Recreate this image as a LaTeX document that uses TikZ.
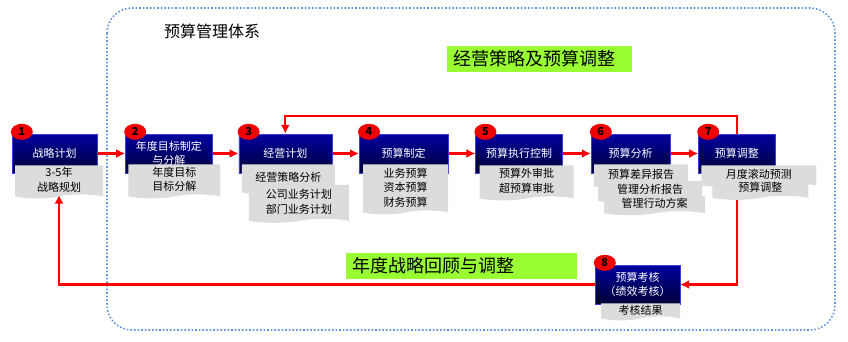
\documentclass[tikz,border=0pt]{standalone}
\usepackage{fontspec}
\setmainfont{Noto Sans CJK SC}
\usetikzlibrary{arrows.meta, positioning, calc, shapes.symbols, shapes.geometric, backgrounds}

\definecolor{frameblue}{RGB}{95,150,215}
\definecolor{stagetop}{RGB}{0,0,160}
\definecolor{stagebot}{RGB}{0,0,55}
\definecolor{stageline}{RGB}{60,60,220}
\definecolor{notegray}{RGB}{220,220,220}
\definecolor{tagred}{RGB}{240,0,0}
\definecolor{bannergreen}{RGB}{153,255,51}

\tikzset{
  stage/.style  = {draw=stageline, rectangle, top color=stagetop, bottom color=stagebot,
                   text=white, align=center, inner sep=2pt, minimum height=39pt,
                   font=\fontsize{11}{13.5}\selectfont},
  note/.style   = {tape, tape bend top=none, tape bend height=4pt, fill=notegray,
                   align=center, inner sep=1pt, font=\fontsize{11}{14.5}\selectfont},
  tag/.style    = {ellipse, fill=tagred, minimum width=22pt, minimum height=16pt,
                   inner sep=0pt, font=\fontsize{11}{11}\selectfont\bfseries},
  banner/.style = {fill=bannergreen, anchor=west, align=left, inner xsep=6pt,
                   minimum height=26pt, font=\fontsize{18}{20}\selectfont},
  arr/.style    = {-{Latex[length=9pt, width=9pt]}, line width=2.2pt, red},
  frame/.style  = {draw=frameblue, dotted, line width=1.6pt, rounded corners=25pt},
  node distance = 27pt
}

\begin{document}
\begin{tikzpicture}[x=1pt, y=-1pt]
  \useasboundingbox (0,0) rectangle (848,341);

  % --- outer frame and headings ---
  \node[font=\fontsize{16}{18}\selectfont] (sysname) at (212,31) {预算管理体系};
  \node[banner, text width=173pt] (planbanner) at (447,59) {经营策略及预算调整};
  \node[banner, text width=219pt] (reviewbanner) at (346,265.5) {年度战略回顾与调整};

  % --- stages ---
  \node[stage, minimum width=85pt]                (s1) at (54.5,153.5) {战略计划};
  \node[stage, minimum width=87pt, right=28pt of s1] (s2) {年度目标制定\\与分解};
  \node[stage, minimum width=93pt, right=26pt of s2] (s3) {经营计划};
  \node[stage, minimum width=89pt, right=27pt of s3] (s4) {预算制定};
  \node[stage, minimum width=87pt, right=27pt of s4] (s5) {预算执行控制};
  \node[stage, minimum width=79pt, right=28pt of s5] (s6) {预算分析};
  \node[stage, minimum width=77pt, right=28pt of s6] (s7) {预算调整};
  \node[stage, minimum width=85pt]                (s8) at (637.5,284.5) {预算考核\\（绩效考核）};

  % --- notes under the stages ---
  \node[note, minimum width=88pt, minimum height=33pt, below=-8pt of s1, xshift=4.5pt] (n1) {3-5年\\战略规划};
  \node[note, minimum width=92pt, minimum height=34pt, below=-9pt of s2, xshift=5.5pt] (n2) {年度目标\\目标分解};
  \node[note, minimum width=93pt, minimum height=30pt, below=-9pt of s3, xshift=3pt] (n3a) {经营策略分析};
  \node[note, minimum width=100pt, minimum height=38pt, below=-6pt of n3a, xshift=10.5pt] (n3b) {公司业务计划\\部门业务计划};
  \node[note, minimum width=85pt, minimum height=50pt, below=-9pt of s4, xshift=2pt] (n4) {业务预算\\资本预算\\财务预算};
  \node[note, minimum width=94pt, minimum height=35pt, below=-8pt of s5, xshift=7.5pt] (n5) {预算外审批\\超预算审批};
  \node[note, minimum width=94pt, minimum height=24pt, below=-9pt of s6, xshift=10.5pt] (n6a) {预算差异报告};
  \node[note, minimum width=104pt, minimum height=22pt, below=-4pt of n6a, xshift=9pt] (n6b) {管理分析报告};
  \node[note, minimum width=101pt, minimum height=19pt, below=-3pt of n6b, xshift=4.5pt] (n6c) {管理行动方案};
  \node[note, minimum width=115pt, minimum height=22pt, below=-8pt of s7, xshift=22pt] (n7a) {月度滚动预测};
  \node[note, minimum width=96pt, minimum height=21pt, below=-5pt of n7a, xshift=1.5pt] (n7b) {预算调整};
  \node[note, minimum width=79pt, minimum height=17pt, below=-1pt of s8, xshift=3pt] (n8) {考核结果};

  % --- step numbers ---
  \foreach \i in {1,...,8}
    \node[tag] (t\i) at ($(s\i.north west)+(10pt,2pt)$) {\i};

  % --- connectors ---
  \coordinate (loopTop) at (0,116);
  \begin{scope}[on background layer]
    \draw[frame] (107,8) rectangle (835,330);
    \draw[arr] (s1) -- (s2);
    \draw[arr] (s2) -- (s3);
    \draw[arr] (s3) -- (s4);
    \draw[arr] (s4) -- (s5);
    \draw[arr] (s5) -- (s6);
    \draw[arr] (s6) -- (s7);
    \draw[arr] (s7.north) |- (loopTop -| s3.north) -- (s3.north);
    \draw[arr] (s7.south) |- (s8.east);
    \draw[arr] (s8.west) -| (n1.south);
  \end{scope}

\end{tikzpicture}
\end{document}
